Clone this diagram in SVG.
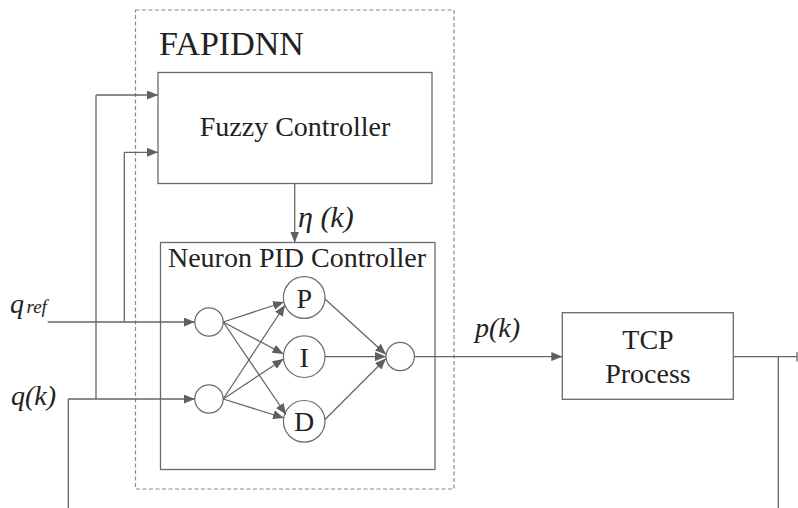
<svg xmlns="http://www.w3.org/2000/svg" width="798" height="508" viewBox="0 0 798 508">
<defs>
<marker id="ah" markerUnits="userSpaceOnUse" markerWidth="11" markerHeight="9" refX="11" refY="4.5" orient="auto">
<path d="M0,0 L11,4.5 L0,9 z" fill="#5f5f5f"/>
</marker>
<style>
.box{fill:#fff;stroke:#6a6a6a;stroke-width:1.3}
.dash{fill:none;stroke:#8a8a8a;stroke-width:1.2;stroke-dasharray:4 2.5}
.ln{fill:none;stroke:#666;stroke-width:1.3}
.ar{fill:none;stroke:#666;stroke-width:1.3;marker-end:url(#ah)}
.nd{fill:#fff;stroke:#6a6a6a;stroke-width:1.2}
.t{font-family:"Liberation Serif","Times New Roman",serif;fill:#222}
.i{font-family:"Liberation Serif","Times New Roman",serif;font-style:italic;fill:#222}
</style>
</defs>
<rect width="798" height="508" fill="#fff"/>
<g id="fapidnn">
<rect class="dash" x="135.5" y="10" width="318.5" height="479"/>
<text class="t" x="159" y="55" font-size="34">FAPIDNN</text>
</g>
<g id="fuzzy">
<rect class="box" x="158" y="72.5" width="274" height="111"/>
<text class="t" x="295" y="136" font-size="28" text-anchor="middle">Fuzzy Controller</text>
</g>
<g id="npid">
<rect class="box" x="160.5" y="242.5" width="274.5" height="227"/>
<text class="t" x="297" y="267" font-size="28" text-anchor="middle">Neuron PID Controller</text>
</g>
<g id="in1"><circle class="nd" cx="209" cy="322" r="14.2"/></g>
<g id="in2"><circle class="nd" cx="209" cy="399" r="14.2"/></g>
<g id="P"><circle class="nd" cx="304.2" cy="297.5" r="20.8"/><text class="t" x="304.2" y="307.5" font-size="28" text-anchor="middle">P</text></g>
<g id="I"><circle class="nd" cx="304.2" cy="356.7" r="20.8"/><text class="t" x="304.2" y="366.7" font-size="28" text-anchor="middle">I</text></g>
<g id="D"><circle class="nd" cx="304.2" cy="421.3" r="20.8"/><text class="t" x="304.2" y="431.3" font-size="28" text-anchor="middle">D</text></g>
<g id="out"><circle class="nd" cx="400.2" cy="356.5" r="14.2"/></g>
<g id="tcp">
<rect class="box" x="562.3" y="312.7" width="171" height="86.6"/>
<text class="t" x="648" y="348.5" font-size="28" text-anchor="middle">TCP</text>
<text class="t" x="648" y="383" font-size="28" text-anchor="middle">Process</text>
</g>
<g id="connectors">
<path class="ar" d="M96,95 H158"/>
<path class="ar" d="M124.3,152.3 H158"/>
<path class="ln" d="M96,95 V399"/>
<path class="ln" d="M124.3,152.3 V322"/>
<path class="ar" d="M294.7,183.5 V242.5"/>
<path class="ar" d="M47.7,322 H194.8"/>
<path class="ar" d="M68.3,399 H194.8"/>
<path class="ln" d="M68.3,399 V508"/>
<path class="ar" d="M223.2,322 L284,302"/>
<path class="ar" d="M223.2,322 L283.5,354"/>
<path class="ar" d="M223.2,322 L286,414.5"/>
<path class="ar" d="M223.2,399 L285,305"/>
<path class="ar" d="M223.2,399 L283.5,359"/>
<path class="ar" d="M223.2,399 L284,418"/>
<path class="ar" d="M325,299 L386,354.5"/>
<path class="ar" d="M325,356.6 L386,356.6"/>
<path class="ar" d="M325,419.5 L386,358.5"/>
<path class="ar" d="M414.4,356.6 H562.3"/>
<path class="ln" d="M733.3,356.6 H797"/>
<path class="ln" d="M797,352 V361.5"/>
<path class="ln" d="M778.3,356.6 V508"/>
</g>
<g id="labels">
<text class="i" x="298" y="227" font-size="30">η (k)</text>
<text class="i" x="475" y="337" font-size="28">p(k)</text>
<text class="i" x="10" y="313" font-size="28">q</text>
<text class="i" x="26.5" y="313" font-size="19">ref</text>
<text class="i" x="11" y="405" font-size="28">q(k)</text>
</g>
</svg>
